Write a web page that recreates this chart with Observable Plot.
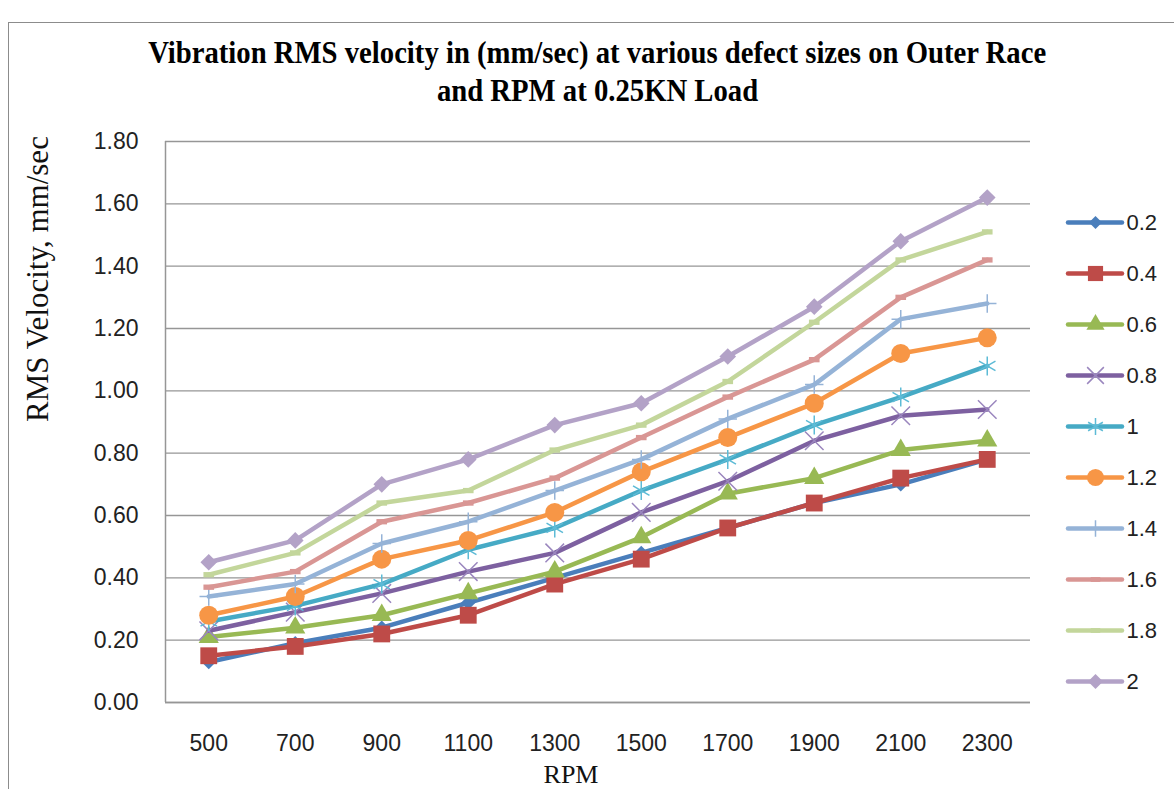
<!DOCTYPE html>
<html><head><meta charset="utf-8">
<script src="https://cdn.jsdelivr.net/npm/d3@7"></script>
<script src="https://cdn.jsdelivr.net/npm/@observablehq/plot@0.6"></script>
<style>
html,body{margin:0;padding:0;background:#fff;}
#chart{position:relative;width:1174px;height:789px;overflow:hidden;background:#fff;}
#border{position:absolute;left:8px;top:22px;width:1300px;height:1000px;border:1.5px solid #8c8c8c;box-sizing:border-box;}
#title{position:absolute;left:0;top:34px;width:1195px;text-align:center;font-family:"Liberation Serif","Times New Roman",serif;font-weight:bold;font-size:31px;line-height:38px;color:#000;}
#title span{display:inline-block;white-space:nowrap;transform-origin:50% 50%;}
#row{position:absolute;left:0;top:120px;display:flex;}
</style></head><body>
<div id="chart"><div id="border"></div><div id="title"><span id="t1"></span><br><span id="t2"></span></div><div id="row"></div></div>
<script>
// ---- data ----
const titleLines = ["Vibration RMS velocity in (mm/sec) at various defect sizes on Outer Race", "and RPM at 0.25KN Load"];
const yTitle = "RMS Velocity, mm/sec";
const xTitle = "RPM";
const rpm = [500, 700, 900, 1100, 1300, 1500, 1700, 1900, 2100, 2300];
const yTicks = [0, 0.2, 0.4, 0.6, 0.8, 1.0, 1.2, 1.4, 1.6, 1.8];
const sizes = ["0.2", "0.4", "0.6", "0.8", "1", "1.2", "1.4", "1.6", "1.8", "2"];
const v02 = [0.13, 0.19, 0.24, 0.32, 0.40, 0.48, 0.56, 0.64, 0.70, 0.78];
const v04 = [0.15, 0.18, 0.22, 0.28, 0.38, 0.46, 0.56, 0.64, 0.72, 0.78];
const v06 = [0.21, 0.24, 0.28, 0.35, 0.42, 0.53, 0.67, 0.72, 0.81, 0.84];
const v08 = [0.23, 0.29, 0.35, 0.42, 0.48, 0.61, 0.71, 0.84, 0.92, 0.94];
const v10 = [0.26, 0.31, 0.38, 0.49, 0.56, 0.68, 0.78, 0.89, 0.98, 1.08];
const v12 = [0.28, 0.34, 0.46, 0.52, 0.61, 0.74, 0.85, 0.96, 1.12, 1.17];
const v14 = [0.34, 0.38, 0.51, 0.58, 0.68, 0.78, 0.91, 1.02, 1.23, 1.28];
const v16 = [0.37, 0.42, 0.58, 0.64, 0.72, 0.85, 0.98, 1.10, 1.30, 1.42];
const v18 = [0.41, 0.48, 0.64, 0.68, 0.81, 0.89, 1.03, 1.22, 1.42, 1.51];
const v20 = [0.45, 0.52, 0.70, 0.78, 0.89, 0.96, 1.11, 1.27, 1.48, 1.62];
const seriesValues = [v02, v04, v06, v08, v10, v12, v14, v16, v18, v20];

// ---- styles ----
const lineColors = ["#4A7EBB", "#BE4B48", "#98B954", "#7D60A0", "#46AAC5", "#F79646", "#95B3D7", "#D99694", "#C3D69B", "#B3A2C7"];
const dash = {draw(ctx, size) { const w = Math.sqrt(size), h = w * 0.5; ctx.rect(-w / 2, -h / 2, w, h); }};
const markers = [
  {symbol: "diamond2", fill: "#4A7EBB", r: 6.5},
  {symbol: "square", fill: "#BE4B48", r: 9.5},
  {symbol: "triangle", fill: "#98B954", r: 7.5},
  {symbol: "times", stroke: "#9A86BE", strokeWidth: 1.5, r: 8.5},
  {symbol: "asterisk", stroke: "#5DBBD6", strokeWidth: 1.5, r: 9},
  {symbol: "circle", fill: "#F79646", r: 9.5},
  {symbol: "plus", stroke: "#95B3D7", strokeWidth: 1.5, r: 6},
  {symbol: dash, fill: "#D99694", r: 6},
  {symbol: dash, fill: "#C3D69B", r: 6},
  {symbol: "diamond2", fill: "#B3A2C7", r: 7.5}
];
const sansFont = "'Liberation Sans', Arial, sans-serif";
const serifFont = "'Liberation Serif', 'Times New Roman', serif";

// ---- title ----
const t1 = document.getElementById("t1"), t2 = document.getElementById("t2");
t1.textContent = titleLines[0];
t2.textContent = titleLines[1];
const sx = 898 / t1.getBoundingClientRect().width;
t1.style.transform = `scaleX(${sx})`;
t2.style.transform = `scaleX(${sx})`;

// ---- table ----
const rows = sizes.flatMap((s, i) => rpm.map((r, j) => ({size: s, rpm: r, v: seriesValues[i][j]})));

const seriesMarks = sizes.flatMap((s, i) => {
  const d = rows.filter(o => o.size === s);
  const m = markers[i];
  return [
    Plot.line(d, {x: "rpm", y: "v", stroke: lineColors[i], strokeWidth: 4.5, strokeLinejoin: "round", strokeLinecap: "round"}),
    Plot.dot(d, {x: "rpm", y: "v", symbol: m.symbol, r: m.r, fill: m.fill ?? "none", stroke: m.stroke ?? "none", strokeWidth: m.strokeWidth ?? 1})
  ];
});

const xDomain = [400, 2400];
const main = Plot.plot({
  width: 1040, height: 669,
  marginLeft: 165, marginRight: 10, marginTop: 21, marginBottom: 87,
  style: {fontFamily: sansFont, color: "#222", background: "transparent", overflow: "visible"},
  x: {domain: xDomain, label: null},
  y: {domain: [0, 1.8], label: null},
  marks: [
    Plot.gridY(yTicks, {stroke: "#969696", strokeOpacity: 1, strokeWidth: 1.3}),
    Plot.ruleY([0], {stroke: "#969696", strokeWidth: 1.5}),
    Plot.ruleX([xDomain[0]], {stroke: "#969696", strokeWidth: 1.5}),
    Plot.axisY({ticks: yTicks, tickFormat: d3.format(".2f"), tickSize: 0, tickPadding: 27, fontSize: 23, label: null}),
    Plot.axisX({ticks: rpm, tickFormat: d => String(d), tickSize: 0, tickPadding: 32, fontSize: 23, label: null}),
    ...seriesMarks,
    Plot.text([yTitle], {text: d => d, frameAnchor: "left", dx: -140, rotate: -90, lineAnchor: "top", fontSize: 31, fontFamily: serifFont, fill: "#111"}),
    Plot.text([xTitle], {text: d => d, frameAnchor: "bottom", dx: -27, dy: 72, lineAnchor: "middle", fontSize: 26, fontFamily: serifFont, fill: "#111"})
  ]
});

const legendMarks = sizes.flatMap((s, i) => {
  const m = markers[i];
  return [
    Plot.ruleY([s], {y: d => d, x1: 0, x2: 1, stroke: lineColors[i], strokeWidth: 4.5, strokeLinecap: "round"}),
    Plot.dot([s], {y: d => d, x: 0.5, symbol: m.symbol, r: m.r * 0.9, fill: m.fill ?? "none", stroke: m.stroke ?? "none", strokeWidth: m.strokeWidth ?? 1})
  ];
});
const legend = Plot.plot({
  width: 134, height: 669,
  marginLeft: 28, marginRight: 52, marginTop: 102, marginBottom: 108,
  style: {fontFamily: sansFont, color: "#222", background: "transparent", overflow: "visible"},
  x: {domain: [0, 1], axis: null},
  y: {type: "point", domain: sizes, padding: 0, axis: null},
  marks: [
    ...legendMarks,
    Plot.text(sizes, {text: d => d, y: d => d, x: 1, dx: 4, textAnchor: "start", fontSize: 22, fill: "#222"})
  ]
});

const row = document.getElementById("row");
row.appendChild(main);
row.appendChild(legend);
</script>
</body></html>
